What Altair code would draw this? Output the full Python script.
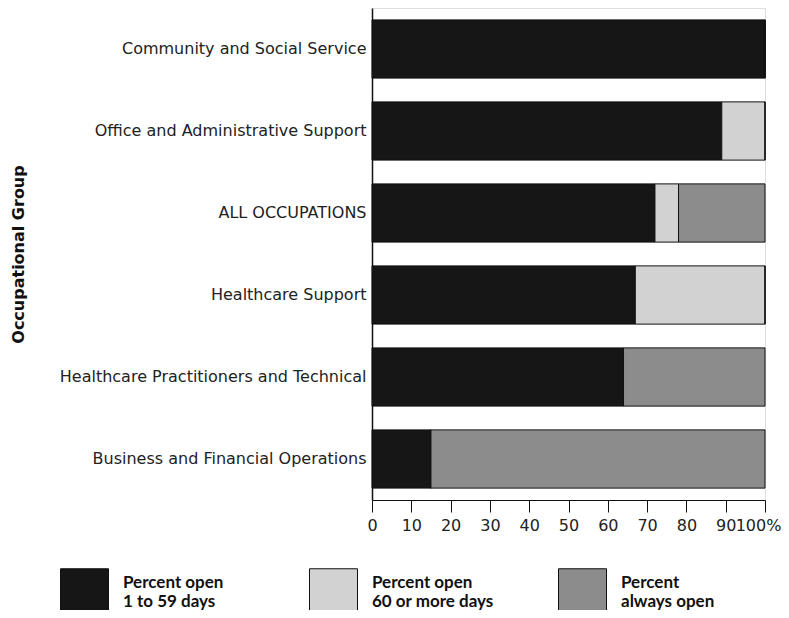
import altair as alt
import pandas as pd

categories = [
    "Community and Social Service",
    "Office and Administrative Support",
    "ALL OCCUPATIONS",
    "Healthcare Support",
    "Healthcare Practitioners and Technical",
    "Business and Financial Operations",
]
series = ["Percent open|1 to 59 days", "Percent open|60 or more days", "Percent|always open"]
open_1_59 = [100, 89, 72, 67, 64, 15]
open_60_plus = [0, 11, 6, 33, 0, 0]
always_open = [0, 0, 22, 0, 36, 85]
colors = ["#161616", "#d2d2d2", "#8c8c8c"]

rows = []
for i, c in enumerate(categories):
    for k, (s, vals) in enumerate(zip(series, [open_1_59, open_60_plus, always_open])):
        rows.append({"group": c, "series": s, "value": vals[i], "order": k})
df = pd.DataFrame(rows)

FONT = "DejaVu Sans"
LFONT = "Lato"

chart = alt.Chart(df).mark_bar(stroke="#111111", strokeWidth=1).encode(
    y=alt.Y("group:N", sort=categories,
            scale=alt.Scale(paddingInner=0.29, paddingOuter=0.145),
            axis=alt.Axis(title="Occupational Group", titleFont=FONT, titleFontSize=16,
                          titleFontWeight="bold", titleColor="#111111", titleX=-346,
                          labelFont=FONT, labelFontSize=16, labelColor="#222222",
                          labelPadding=6, ticks=False, domainColor="#111111",
                          domainWidth=1.5, labelLimit=400)),
    x=alt.X("value:Q", stack="zero",
            scale=alt.Scale(domain=[0, 100], nice=False),
            axis=alt.Axis(title=None, values=list(range(0, 101, 10)),
                          labelExpr="datum.value == 100 ? '100%' : datum.label",
                          labelFont=FONT, labelFontSize=16, labelColor="#222222",
                          labelOverlap=False, labelFlush=False,
                          labelOffset={"condition": {"test": "datum.value == 100", "value": -7},
                                       "value": 0},
                          tickSize=12, tickColor="#111111", domainColor="#111111",
                          grid=False, labelPadding=5)),
    color=alt.Color("series:N", sort=series,
                    scale=alt.Scale(domain=series, range=colors),
                    legend=alt.Legend(title=None, orient="none", legendX=-312, legendY=560,
                                      direction="horizontal", columns=3, gridAlign="all",
                                      columnPadding=62, padding=0,
                                      symbolType="square", symbolSize=2304,
                                      symbolStrokeColor="#111111", symbolStrokeWidth=1,
                                      symbolOpacity=1, labelOffset=14,
                                      labelExpr="split(datum.label, '|')",
                                      labelFont=LFONT, labelFontSize=17, labelFontWeight="bold",
                                      labelColor="#111111", labelLimit=300,
                                      labelBaseline="line-bottom")),
    order=alt.Order("order:Q"),
).properties(
    width=393, height=492,
    autosize=alt.AutoSizeParams(type="none"),
    padding={"left": 364, "top": 0, "right": 16, "bottom": 110},
).configure_view(stroke=None).configure(background="white")

chart.save("out.html", embed_options={"renderer": "svg", "actions": False})
